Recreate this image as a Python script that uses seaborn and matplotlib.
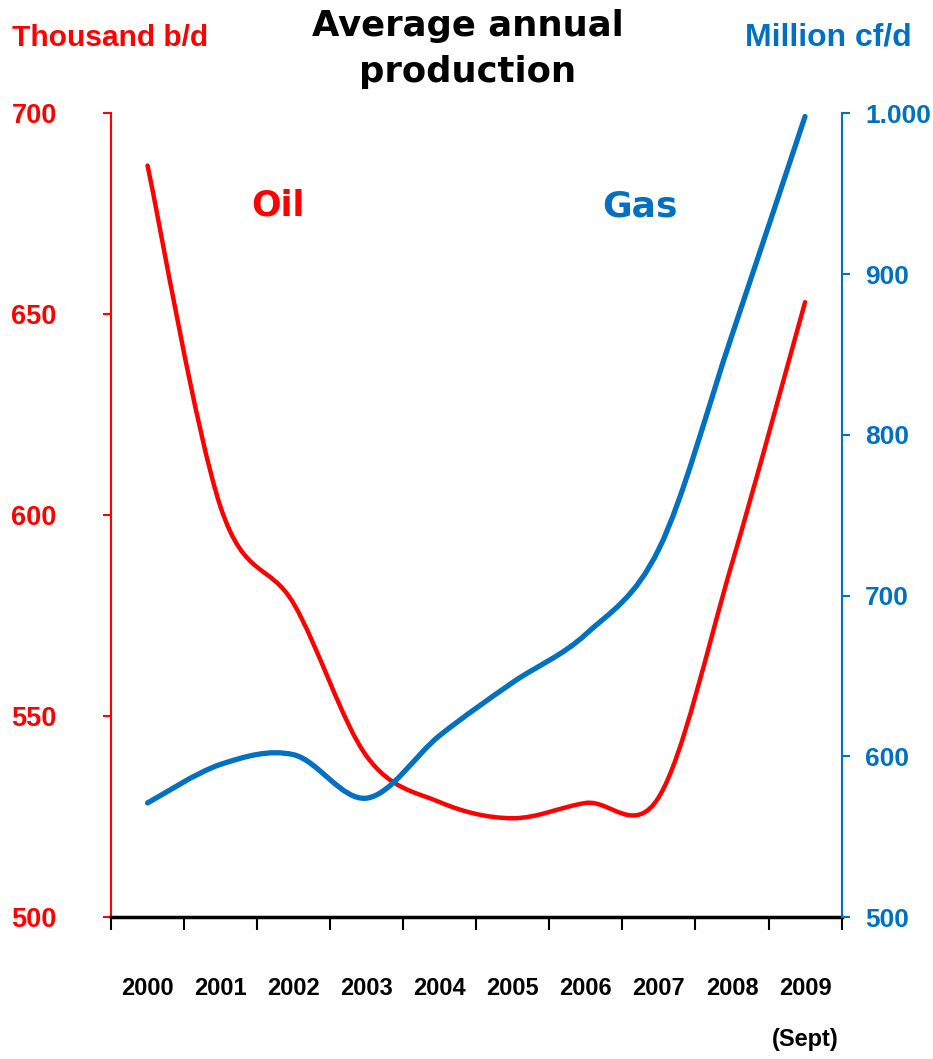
import numpy as np
import seaborn as sns
import matplotlib.pyplot as plt
from matplotlib.path import Path
from matplotlib.patches import PathPatch

# data
years = ["2000", "2001", "2002", "2003", "2004", "2005", "2006", "2007", "2008", "2009"]
oil = [687, 602, 578, 540, 528.6, 524.6, 528.4, 529.9, 588, 653]
gas = [571, 595, 601, 574, 613, 646, 676, 729, 862, 998]
oil_ticks = [500, 550, 600, 650, 700]
gas_ticks = [500, 600, 700, 800, 900, 1000]
gas_tick_labels = ["500", "600", "700", "800", "900", "1.000"]

RED = "#FF0000"
BLUE = "#0070C0"

sns.set_style("white")
narrow = ["Liberation Sans", "DejaVu Sans"]
plt.rcParams["font.family"] = ["DejaVu Sans"]
plt.rcParams["text.color"] = "black"


def smooth_path(x, y):
    # excel-like smoothed line: cubic bezier through every point
    pts = np.column_stack([x, y]).astype(float)
    n = len(pts)
    verts = [pts[0]]
    codes = [Path.MOVETO]
    for i in range(n - 1):
        p_prev = pts[max(i - 1, 0)]
        p0 = pts[i]
        p1 = pts[i + 1]
        p_next = pts[min(i + 2, n - 1)]
        c1 = p0 + (p1 - p_prev) / 6.0
        c2 = p1 - (p_next - p0) / 6.0
        verts += [c1, c2, p1]
        codes += [Path.CURVE4] * 3
    return Path(verts, codes)


fig, ax = plt.subplots(figsize=(9.33, 10.59), dpi=100)
fig.subplots_adjust(left=0.119, right=0.902, bottom=0.134, top=0.893)
ax2 = ax.twinx()

x = np.arange(len(years))
ax.add_patch(PathPatch(smooth_path(x, oil), facecolor="none", edgecolor=RED,
                       lw=3.2, capstyle="round", zorder=3))
ax2.add_patch(PathPatch(smooth_path(x, gas), facecolor="none", edgecolor=BLUE,
                        lw=3.8, capstyle="round", zorder=3))

ax.set_xlim(-0.5, len(years) - 0.5)
ax.set_ylim(500, 700)
ax2.set_ylim(500, 1000)

# category boundaries as major ticks, year labels on minor ticks
ax.set_xticks(np.arange(-0.5, len(years), 1.0))
ax.set_xticklabels([])
ax.set_xticks(x, minor=True)
ax.set_xticklabels(years, minor=True)
ax.tick_params(axis="x", which="major", direction="out", length=9, width=1.5,
               color="black", bottom=True)
ax.tick_params(axis="x", which="minor", length=0, pad=43, labelcolor="black")
for lab in ax.get_xticklabels(minor=True):
    lab.set_family(narrow)
    lab.set_fontweight("bold")
    lab.set_fontsize(17)

ax.set_yticks(oil_ticks)
ax.set_yticklabels([str(v) for v in oil_ticks])
ax.tick_params(axis="y", direction="out", length=6, width=1.5, color=RED,
               labelcolor=RED, pad=33, left=True)
for lab in ax.get_yticklabels():
    lab.set_family(narrow)
    lab.set_fontweight("bold")
    lab.set_fontsize(19.5)

ax2.set_yticks(gas_ticks)
ax2.set_yticklabels(gas_tick_labels)
ax2.tick_params(axis="y", direction="out", length=6, width=1.5, color=BLUE,
                labelcolor=BLUE, pad=11, right=True)
for lab in ax2.get_yticklabels():
    lab.set_family(narrow)
    lab.set_fontweight("bold")
    lab.set_fontsize(19)

for a in (ax, ax2):
    a.spines["top"].set_visible(False)
    a.grid(False)
ax2.spines["left"].set_visible(False)
ax2.spines["bottom"].set_visible(False)
ax.spines["right"].set_visible(False)
ax.spines["left"].set_color(RED)
ax.spines["left"].set_linewidth(1.5)
ax2.spines["right"].set_color(BLUE)
ax2.spines["right"].set_linewidth(1.5)
ax.spines["bottom"].set_color("black")
ax.spines["bottom"].set_linewidth(2.5)
ax.spines["bottom"].set_zorder(5)

ax.annotate("(Sept)", xy=(9, 0), xycoords=("data", "axes fraction"),
            xytext=(0, -88), textcoords="offset points", ha="center", va="center",
            family=narrow, fontweight="bold", fontsize=17, color="black")

# series labels
ax.text(1.78, 677, "Oil", color=RED, fontsize=25, fontweight="bold",
        ha="center", va="center")
ax2.text(6.74, 942, "Gas", color=BLUE, fontsize=26, fontweight="bold",
         ha="center", va="center")

# titles and axis units
fig.text(468 / 933, 1 - 49 / 1059, "Average annual\nproduction", ha="center",
         va="center", fontsize=25.5, fontweight="bold", linespacing=1.45,
         color="black")
fig.text(12 / 933, 1 - 38 / 1059, "Thousand b/d", color=RED, ha="left",
         va="center", family=narrow, fontweight="bold", fontsize=21.5)
fig.text(912 / 933, 1 - 38 / 1059, "Million cf/d", color=BLUE, ha="right",
         va="center", family=narrow, fontweight="bold", fontsize=23)

plt.savefig("out.png", dpi=100)
plt.close()
